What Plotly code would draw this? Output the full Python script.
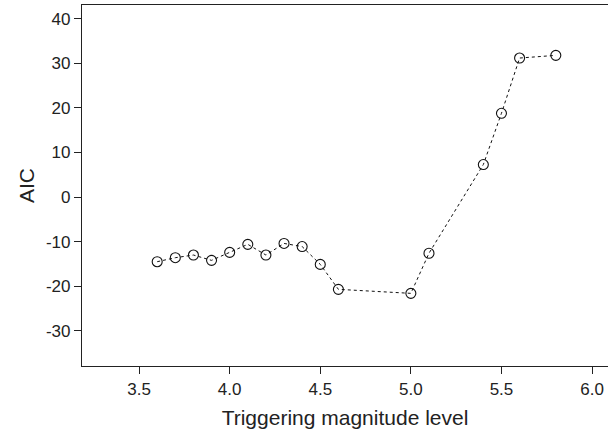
import plotly.graph_objects as go

magnitude = [3.6, 3.7, 3.8, 3.9, 4.0, 4.1, 4.2, 4.3, 4.4, 4.5, 4.6, 5.0, 5.1, 5.4, 5.5, 5.6, 5.8]
aic = [-14.5, -13.6, -13.0, -14.2, -12.4, -10.6, -13.0, -10.4, -11.1, -15.1, -20.7, -21.6, -12.6, 7.3, 18.8, 31.2, 31.8]

x_ticks = [3.5, 4.0, 4.5, 5.0, 5.5, 6.0]
y_ticks = [-30, -20, -10, 0, 10, 20, 30, 40]

fig = go.Figure()
fig.add_trace(go.Scatter(
    x=magnitude, y=aic, mode="lines+markers",
    line=dict(color="#111111", width=1, dash="3px,3px"),
    marker=dict(symbol="circle-open", size=10, color="#111111", line=dict(width=1.1)),
    showlegend=False,
))

fam = "Liberation Sans, Arial, sans-serif"
tick_font = dict(family=fam, size=17, color="#222222")
title_font = dict(family=fam, size=21, color="#222222")

fig.update_layout(
    width=608, height=433,
    margin=dict(l=82, r=0, t=5, b=67),
    paper_bgcolor="white", plot_bgcolor="white",
    font=tick_font,
    xaxis=dict(
        range=[3.185, 6.088], tickvals=x_ticks, ticktext=[f"{v:.1f}" for v in x_ticks],
        showgrid=False, zeroline=False, showline=True, linecolor="#222222", linewidth=1.2,
        mirror=True, ticks="outside", ticklen=7, tickcolor="#222222", tickwidth=1,
        tickfont=tick_font,
        title=dict(text="Triggering magnitude level", font=title_font, standoff=12),
    ),
    yaxis=dict(
        range=[-37.9, 43.1], tickvals=y_ticks, ticktext=[str(v) for v in y_ticks],
        showgrid=False, zeroline=False, showline=True, linecolor="#222222", linewidth=1.2,
        mirror=False, ticks="outside", ticklen=7, tickcolor="#222222", tickwidth=1,
        tickfont=tick_font,
        title=dict(text="AIC", font=title_font, standoff=5),
    ),
)

fig.write_html("out.html")
